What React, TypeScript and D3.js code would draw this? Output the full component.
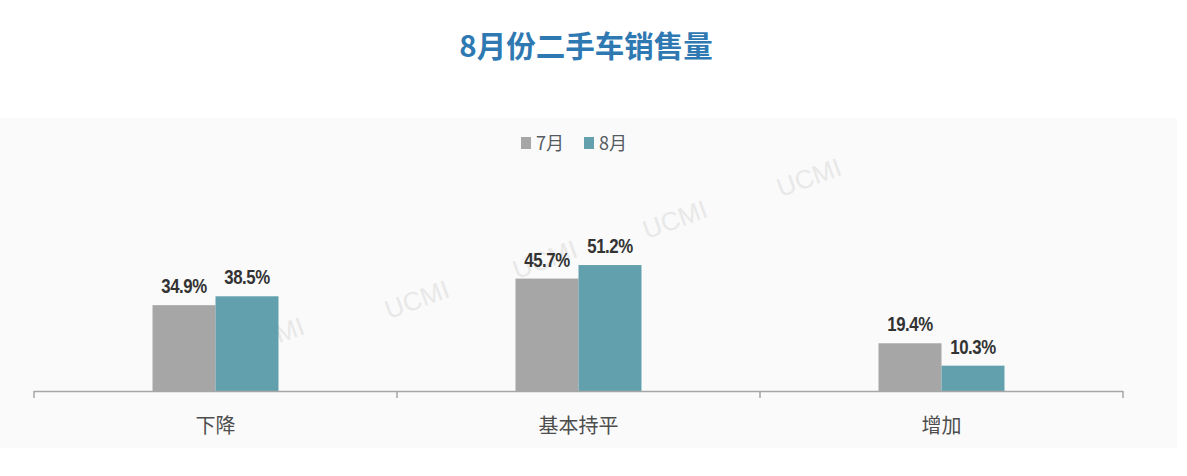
import React from "react";
import * as d3 from "d3";

const categories = ["下降", "基本持平", "增加"];
const seriesNames = ["7月", "8月"];
const july = [34.9, 45.7, 19.4];
const august = [38.5, 51.2, 10.3];
const colors = ["#a6a6a6", "#62a0ad"];
const watermarks = [
  { x: 275, y: 345 },
  { x: 420, y: 308 },
  { x: 548, y: 268 },
  { x: 678, y: 228 },
  { x: 812, y: 186 },
];

export default function App() {
  const W = 1187;
  const H = 476;
  const x0 = d3.scaleBand<string>().domain(categories).range([34, 1123]).padding(0);
  const x1 = d3
    .scaleBand<string>()
    .domain(seriesNames)
    .range([0, 126])
    .padding(0);
  const baseY = 391;
  const y = d3.scaleLinear().domain([0, 60]).range([baseY, baseY - 147.6]);
  const series = [july, august];
  const ticks = [...categories.map((c) => x0(c)!), x0.range()[1]];

  return (
    <svg width={W} height={H} style={{ display: "block", position: "absolute", left: 0, top: 0 }}>
      <rect x={0} y={0} width={W} height={H} fill="#ffffff" />
      <rect x={0} y={118} width={1177} height={330} fill="#fafafa" />
      <text
        x={586}
        y={57}
        textAnchor="middle"
        fontFamily="'Noto Sans CJK SC', sans-serif"
        fontWeight="bold"
        fontSize={29.5}
        fill="#2f79b2"
      >
        8月份二手车销售量
      </text>
      {watermarks.map((w, i) => (
        <text
          key={i}
          x={w.x}
          y={w.y}
          textAnchor="middle"
          transform={`rotate(-20 ${w.x} ${w.y})`}
          fontFamily="'Liberation Sans', Arial, sans-serif"
          fontSize={26}
          fill="#e8e8e8"
        >
          UCMI
        </text>
      ))}
      {/* legend */}
      {seriesNames.map((s, i) => {
        const lx = i === 0 ? 521 : 584;
        return (
          <g key={s}>
            <rect x={lx} y={137} width={10} height={12} fill={colors[i]} />
            <text
              x={lx + 15}
              y={150}
              fontFamily="'Noto Sans CJK SC', sans-serif"
              fontSize={18}
              fill="#555a60"
            >
              {s}
            </text>
          </g>
        );
      })}
      {/* bars */}
      {categories.map((c, ci) => {
        const cx = x0(c)! + x0.bandwidth() / 2 - 63;
        return (
          <g key={c}>
            {series.map((vals, si) => {
              const bx = cx + x1(seriesNames[si])!;
              const by = y(vals[ci]);
              return (
                <g key={si}>
                  <rect x={bx} y={by} width={x1.bandwidth()} height={baseY - by} fill={colors[si]} />
                  <text
                    transform={`translate(${bx + x1.bandwidth() / 2},${by - 12}) scale(0.8,1)`}
                    textAnchor="middle"
                    fontFamily="'Liberation Sans', Arial, sans-serif"
                    fontWeight="bold"
                    fontSize={21}
                    fill="#333333"
                    letterSpacing={-0.5}
                  >
                    {vals[ci].toFixed(1)}%
                  </text>
                </g>
              );
            })}
            <text
              x={x0(c)! + x0.bandwidth() / 2}
              y={433}
              textAnchor="middle"
              fontFamily="'Noto Sans CJK SC', sans-serif"
              fontSize={20}
              fill="#4d4d4d"
            >
              {c}
            </text>
          </g>
        );
      })}
      {/* axis */}
      <line x1={34} x2={1123} y1={baseY + 0.5} y2={baseY + 0.5} stroke="#a6a6a6" strokeWidth={1.5} />
      {ticks.map((t, i) => (
        <line key={i} x1={t} x2={t} y1={baseY} y2={baseY + 7} stroke="#a6a6a6" strokeWidth={1.5} />
      ))}
    </svg>
  );
}
